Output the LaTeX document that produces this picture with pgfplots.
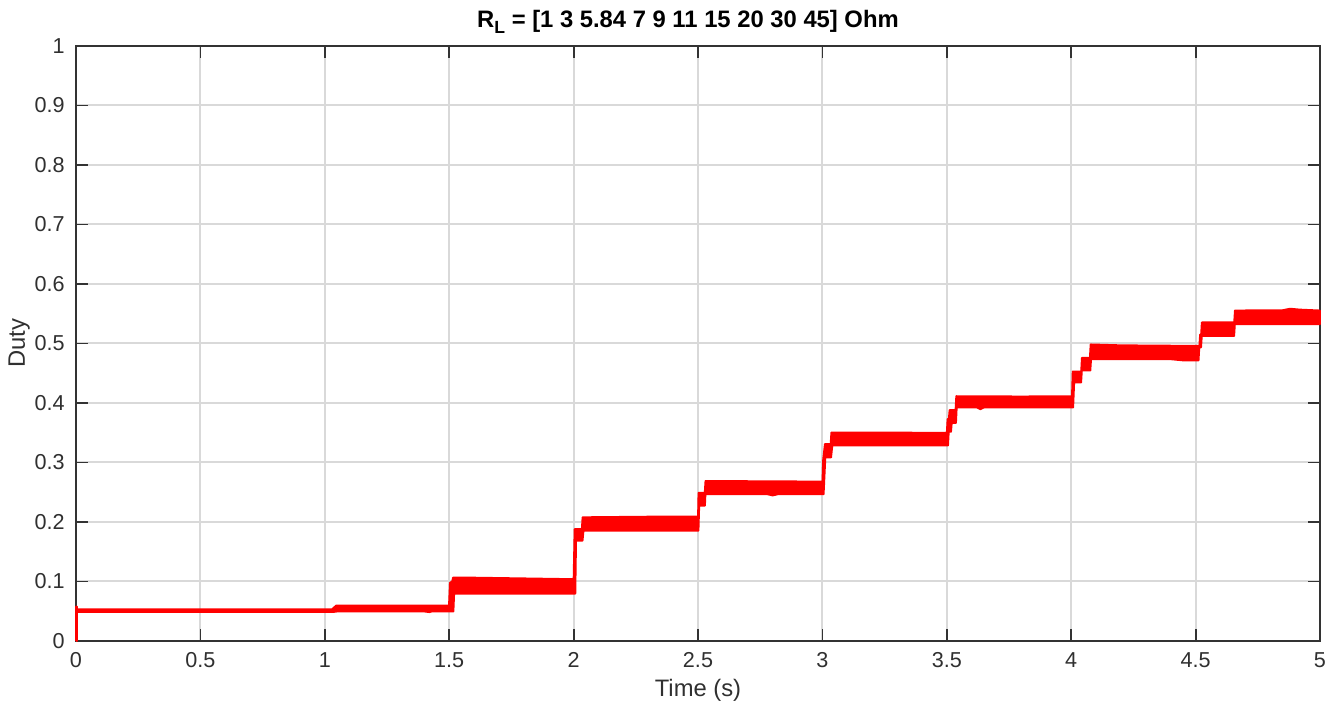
\documentclass[border=0pt]{standalone}
\usepackage{fontspec}
\setmainfont{Liberation Sans}
\usepackage{pgfplots}
\pgfplotsset{compat=1.18}
\usetikzlibrary{calc}
\definecolor{axgray}{HTML}{333333}
\definecolor{lblgray}{HTML}{303030}
\definecolor{gridgray}{HTML}{D9D9D9}
\definecolor{dutyred}{HTML}{FF0000}

\begin{document}
\begin{tikzpicture}
  \begin{axis}[
    name=ax,
    scale only axis,
    width=622pt, height=297.5pt,
    xmin=0, xmax=5, ymin=0, ymax=1,
    xtick={0,0.5,1,1.5,2,2.5,3,3.5,4,4.5,5},
    ytick={0,0.1,0.2,0.3,0.4,0.5,0.6,0.7,0.8,0.9,1},
    tick align=inside, tick pos=both,
    major tick length=6pt,
    grid=major,
    major grid style={draw=gridgray, line width=1pt},
    axis line style={draw=axgray, line width=1pt},
    tick style={draw=axgray, line width=0.9pt},
    /pgf/number format/assume math mode=true,
    ticklabel style={font=\fontsize{10.8}{13}\selectfont, text=lblgray},
    xticklabel style={anchor=base, yshift=-13.5pt, inner sep=0pt},
    yticklabel style={anchor=east, xshift=-5.5pt, inner sep=0pt},
    xlabel={Time (s)},
    ylabel={Duty},
    every axis x label/.style={at={(axis description cs:0.5,-0.0935)}, anchor=base,
      font=\fontsize{11.9}{14}\selectfont, text=lblgray},
    every axis y label/.style={at={(axis description cs:-0.041,0.5)}, rotate=90, anchor=base,
      font=\fontsize{11.9}{14}\selectfont, text=lblgray},
    title={R\raisebox{-0.45ex}{\fontsize{8.8}{10}\selectfont L} = [1 3 5.84 7 9 11 15 20 30 45] Ohm},
    every axis title/.style={at={(axis description cs:0.5,1.0303)}, anchor=base, xshift=-5pt,
      font=\bfseries\fontsize{11.9}{14}\selectfont, text=black},
    clip=false,
  ]
    % duty trace: upper envelope forward in time, lower envelope back
    \addplot[fill=dutyred, draw=dutyred, line width=0.9pt, line join=round] coordinates {
      (0,0) (0,0.058) (0.004,0.058) (0.004,0.0535) (1.03,0.0535) (1.045,0.0595)
      (1.499,0.0595) (1.503,0.098) (1.512,0.100) (1.515,0.1065) (1.6,0.1065) (2.0,0.104)
      (2.004,0.188) (2.033,0.188) (2.036,0.208) (2.3,0.209) (2.5,0.209)
      (2.502,0.249) (2.527,0.249) (2.53,0.269) (3.0,0.268)
      (3.003,0.305) (3.01,0.331) (3.033,0.331) (3.036,0.3505) (3.5,0.350)
      (3.503,0.373) (3.508,0.373) (3.511,0.388) (3.535,0.388) (3.538,0.4115) (3.8,0.411) (4.003,0.4115)
      (4.006,0.453) (4.04,0.453) (4.043,0.476) (4.075,0.476) (4.078,0.4985) (4.2,0.497) (4.515,0.496)
      (4.518,0.515) (4.522,0.515) (4.525,0.5355) (4.655,0.5355) (4.658,0.5555)
      (4.85,0.556) (4.88,0.5585) (4.92,0.557) (5.0,0.5555)
      (5.0,0.5325) (4.658,0.5325) (4.655,0.5125) (4.525,0.5125) (4.522,0.4935) (4.515,0.4935)
      (4.512,0.4715) (4.45,0.4715) (4.4,0.4735) (4.08,0.4735) (4.077,0.4545) (4.043,0.4545)
      (4.04,0.4345) (4.012,0.4345) (4.008,0.3925) (3.65,0.3925) (3.635,0.3895) (3.62,0.3925)
      (3.54,0.3925) (3.537,0.3665) (3.52,0.3665) (3.517,0.3515) (3.508,0.3515) (3.505,0.3285)
      (3.04,0.3285) (3.035,0.3085) (3.012,0.3085) (3.005,0.2465) (2.82,0.2465) (2.8,0.2445)
      (2.78,0.2465) (2.53,0.2465) (2.528,0.2275) (2.505,0.2275) (2.502,0.1855)
      (2.04,0.1855) (2.036,0.1685) (2.01,0.1685) (2.007,0.0795) (1.52,0.0795)
      (1.517,0.0495) (1.43,0.0495) (1.42,0.0485) (1.40,0.0495) (1.05,0.0495) (1.035,0.0488)
      (0.004,0.0488) (0.004,0) (0,0)
    };
  \end{axis}
  \pgfresetboundingbox
  \path ($(ax.south west)+(-38pt,-31.5pt)$) rectangle ($(ax.north east)+(11.5pt,23pt)$);
\end{tikzpicture}
\end{document}
